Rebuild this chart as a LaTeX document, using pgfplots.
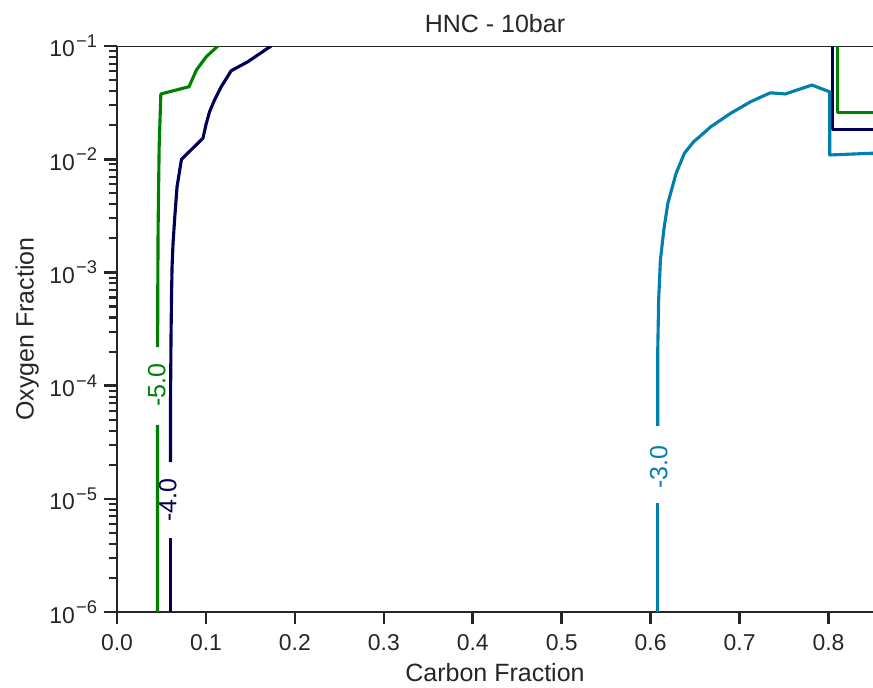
\documentclass[border=0pt]{standalone}
\usepackage{fontspec}
\setmainfont{Liberation Sans}
\usepackage{pgfplots}
\pgfplotsset{compat=1.18}
\definecolor{cgreen}{HTML}{008000}
\definecolor{cnavy}{HTML}{000055}
\definecolor{cteal}{HTML}{0080AA}
\definecolor{textc}{HTML}{262626}
\newcommand{\tenpow}[1]{10\kern0.6pt\raisebox{4.6pt}{\fontsize{8.8pt}{10pt}\selectfont #1}}
\begin{document}
\begin{tikzpicture}
\begin{axis}[
  scale only axis, width=362.88pt, height=271.68pt,
  xmin=0, xmax=0.85, ymin=1e-6, ymax=1e-1, ymode=log,
  axis x line*=bottom, axis y line*=left,
  axis line style={-, line width=1.25pt, draw=textc},
  tick align=outside,
  major tick length=6pt, minor tick length=4pt,
  every tick/.style={line width=1.25pt, draw=textc},
  every minor tick/.style={line width=1pt, draw=textc},
  xtick={0,0.1,0.2,0.3,0.4,0.5,0.6,0.7,0.8},
  scaled x ticks=false,
  xticklabel style={yshift=-1.5pt, /pgf/number format/.cd, fixed, fixed zerofill, precision=1, assume math mode=true},
  ytick={1e-6,1e-5,1e-4,1e-3,1e-2,1e-1},
  yticklabels={\tenpow{−6},\tenpow{−5},\tenpow{−4},\tenpow{−3},\tenpow{−2},\tenpow{−1}},
  minor ytick={2e-6,3e-6,4e-6,5e-6,6e-6,7e-6,8e-6,9e-6,
               2e-5,3e-5,4e-5,5e-5,6e-5,7e-5,8e-5,9e-5,
               2e-4,3e-4,4e-4,5e-4,6e-4,7e-4,8e-4,9e-4,
               2e-3,3e-3,4e-3,5e-3,6e-3,7e-3,8e-3,9e-3,
               2e-2,3e-2,4e-2,5e-2,6e-2,7e-2,8e-2,9e-2},
  tick label style={font=\fontsize{11pt}{13pt}\selectfont, text=textc},
  label style={font=\fontsize{12pt}{14pt}\selectfont, text=textc},
  every axis title shift=0pt,
  title style={font=\fontsize{12pt}{14pt}\selectfont, text=textc, at={(0.5,1.023)}, anchor=base},
  xlabel style={at={(0.5,-0.1231)}, anchor=base},
  ylabel style={at={(-0.1104,0.5)}, anchor=base, rotate=0},
  title={HNC - 10bar},
  xlabel={Carbon Fraction},
  ylabel={Oxygen Fraction},
  every axis plot/.append style={line width=1.5pt, line join=round},
]
\coordinate (O) at (rel axis cs:0,0);
\draw[line width=1.25pt, textc] (rel axis cs:0,1) -- (rel axis cs:1,1);
% -5.0 (green)
\addplot[cgreen] coordinates {(0.0455,1e-6) (0.0456,4.49e-5)};
\addplot[cgreen] coordinates {(0.0457,2.19e-4) (0.0458,5.70e-4) (0.0462,2.37e-3) (0.0467,5.0e-3) (0.0474,1.28e-2) (0.0493,3.77e-2) (0.0810,4.37e-2) (0.0893,6.14e-2) (0.1004,8.04e-2) (0.1134,0.1)};
\addplot[cgreen] coordinates {(0.8096,0.1) (0.8096,2.58e-2) (0.85,2.58e-2)};
% -4.0 (navy)
\addplot[cnavy] coordinates {(0.0599,1e-6) (0.0599,4.51e-6)};
\addplot[cnavy] coordinates {(0.0601,2.11e-5) (0.0602,7.46e-5) (0.0607,2.51e-4) (0.0613,6.10e-4) (0.0619,1.12e-3) (0.0630,1.81e-3) (0.0650,3.10e-3) (0.0675,5.71e-3) (0.0725,9.98e-3) (0.0966,1.53e-2) (0.1004,2.07e-2) (0.1041,2.63e-2) (0.1097,3.34e-2) (0.1172,4.37e-2) (0.1284,6.05e-2) (0.1471,7.26e-2) (0.1732,0.1)};
\addplot[cnavy] coordinates {(0.8048,0.1) (0.8048,1.84e-2) (0.85,1.84e-2)};
% -3.0 (teal)
\addplot[cteal] coordinates {(0.608,1e-6) (0.608,9.18e-6)};
\addplot[cteal] coordinates {(0.608,4.40e-5) (0.608,2.06e-4) (0.609,5.70e-4) (0.611,1.29e-3) (0.6148,2.37e-3) (0.6193,4.07e-3) (0.6286,7.50e-3) (0.6380,1.13e-2) (0.6484,1.43e-2) (0.6529,1.53e-2) (0.6678,1.94e-2) (0.6898,2.54e-2) (0.7124,3.22e-2) (0.7346,3.86e-2) (0.7514,3.77e-2) (0.7813,4.52e-2) (0.8013,3.94e-2) (0.8013,1.09e-2) (0.85,1.13e-2)};
% contour labels
\node[rotate=90, text=cgreen, font=\fontsize{12pt}{14pt}\selectfont, inner sep=0pt] at (axis cs:0.0448,1.01e-4) {-5.0};
\node[rotate=90, text=cnavy, font=\fontsize{12pt}{14pt}\selectfont, inner sep=0pt] at (axis cs:0.0571,9.75e-6) {-4.0};
\node[rotate=90, text=cteal, font=\fontsize{12pt}{14pt}\selectfont, inner sep=0pt] at (axis cs:0.6092,1.9e-5) {-3.0};
\end{axis}
\pgfresetboundingbox
\path[use as bounding box] ([shift={(-56.16pt,-36pt)}]O) rectangle ++(419.04pt,329.76pt);
\end{tikzpicture}
\end{document}
